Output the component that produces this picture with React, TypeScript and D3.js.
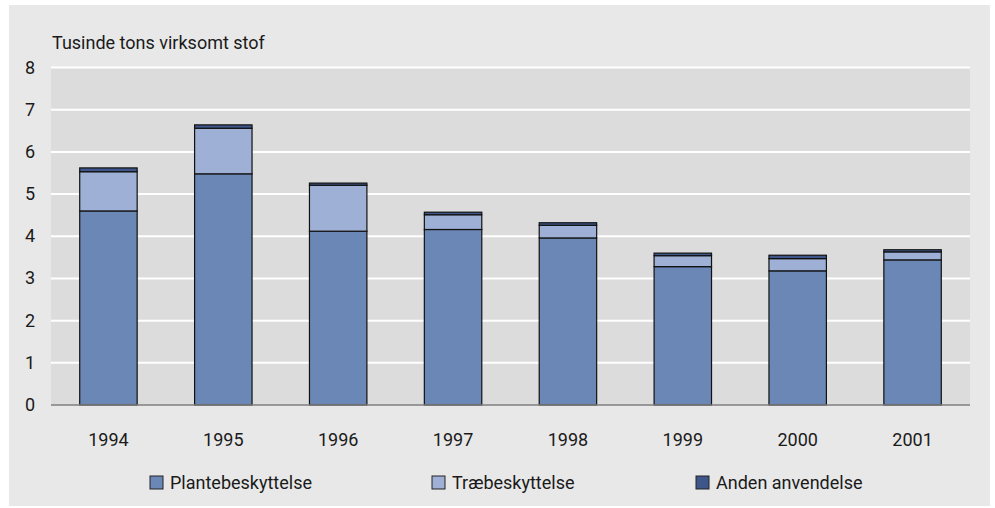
import { useEffect, useRef } from "react";
import * as d3 from "d3";

const WIDTH = 995;
const HEIGHT = 508;
const FONT = "Roboto, 'Open Sans', sans-serif";

const years = ["1994", "1995", "1996", "1997", "1998", "1999", "2000", "2001"];
const plantebeskyttelse = [4.6, 5.48, 4.12, 4.16, 3.96, 3.28, 3.18, 3.44];
const traebeskyttelse = [0.93, 1.08, 1.09, 0.35, 0.3, 0.26, 0.29, 0.19];
const andenAnvendelse = [0.09, 0.08, 0.05, 0.06, 0.06, 0.06, 0.08, 0.05];
const yTicks = [0, 1, 2, 3, 4, 5, 6, 7, 8];

const seriesKeys = ["Plantebeskyttelse", "Træbeskyttelse", "Anden anvendelse"];
const seriesColors = ["#6b87b5", "#9eb0d5", "#3e5689"];

export default function App() {
  const svgRef = useRef<SVGSVGElement>(null);

  useEffect(() => {
    const svgEl = svgRef.current;
    if (!svgEl) return;
    const svg = d3.select(svgEl);
    svg.selectAll("*").remove();

    const margin = { left: 51, right: 25, top: 67.5, bottom: 103 };
    const x = d3
      .scaleBand()
      .domain(years)
      .range([margin.left, WIDTH - margin.right])
      .paddingInner(0.5)
      .paddingOuter(0.25);
    const y = d3.scaleLinear().domain([0, 8]).range([HEIGHT - margin.bottom, margin.top]);

    // outer panel
    svg
      .append("rect")
      .attr("x", 9)
      .attr("y", 5)
      .attr("width", 981)
      .attr("height", 501)
      .attr("fill", "#e8e8e8");

    // plot area
    svg
      .append("rect")
      .attr("x", margin.left)
      .attr("y", y(8))
      .attr("width", WIDTH - margin.right - margin.left)
      .attr("height", y(0) - y(8))
      .attr("fill", "#dcdcdc");

    svg
      .append("g")
      .selectAll("line")
      .data(yTicks.filter((t) => t > 0))
      .join("line")
      .attr("x1", margin.left)
      .attr("x2", WIDTH - margin.right)
      .attr("y1", (d) => y(d))
      .attr("y2", (d) => y(d))
      .attr("stroke", "#ffffff")
      .attr("stroke-width", 2);

    svg
      .append("g")
      .selectAll("text")
      .data(yTicks)
      .join("text")
      .attr("x", 35)
      .attr("y", (d) => y(d) + 6)
      .attr("text-anchor", "end")
      .attr("font-family", FONT)
      .attr("font-size", 18)
      .attr("fill", "#1a1a1a")
      .text((d) => d);

    svg
      .append("text")
      .attr("x", margin.left + 1)
      .attr("y", 49)
      .attr("font-family", FONT)
      .attr("font-size", 18)
      .attr("fill", "#1a1a1a")
      .text("Tusinde tons virksomt stof");

    const rows = years.map((year, i) => ({
      year,
      Plantebeskyttelse: plantebeskyttelse[i],
      Træbeskyttelse: traebeskyttelse[i],
      "Anden anvendelse": andenAnvendelse[i],
    }));
    const stacked = d3.stack<any>().keys(seriesKeys)(rows);

    svg
      .append("g")
      .selectAll("g")
      .data(stacked)
      .join("g")
      .attr("fill", (_, i) => seriesColors[i])
      .selectAll("rect")
      .data((d) => d)
      .join("rect")
      .attr("x", (d) => x(d.data.year)!)
      .attr("y", (d) => y(d[1]))
      .attr("width", x.bandwidth())
      .attr("height", (d) => y(d[0]) - y(d[1]))
      .attr("stroke", "#111111")
      .attr("stroke-width", 1.2);

    svg
      .append("line")
      .attr("x1", margin.left)
      .attr("x2", WIDTH - margin.right)
      .attr("y1", y(0))
      .attr("y2", y(0))
      .attr("stroke", "#7f7f7f")
      .attr("stroke-width", 1.5);

    svg
      .append("g")
      .selectAll("text")
      .data(years)
      .join("text")
      .attr("x", (d) => x(d)! + x.bandwidth() / 2)
      .attr("y", 446)
      .attr("text-anchor", "middle")
      .attr("font-family", FONT)
      .attr("font-size", 18)
      .attr("fill", "#1a1a1a")
      .text((d) => d);

    const legendX = [150, 432, 696];
    const legend = svg
      .append("g")
      .selectAll("g")
      .data(seriesKeys)
      .join("g")
      .attr("transform", (_, i) => `translate(${legendX[i]},476)`);
    legend
      .append("rect")
      .attr("width", 13)
      .attr("height", 13)
      .attr("fill", (_, i) => seriesColors[i])
      .attr("stroke", "#222222")
      .attr("stroke-width", 1);
    legend
      .append("text")
      .attr("x", 20)
      .attr("y", 13)
      .attr("font-family", FONT)
      .attr("font-size", 18)
      .attr("fill", "#1a1a1a")
      .text((d) => d);
  }, []);

  return (
    <svg
      ref={svgRef}
      width={WIDTH}
      height={HEIGHT}
      style={{ position: "absolute", left: 0, top: 0, background: "#ffffff" }}
    />
  );
}
